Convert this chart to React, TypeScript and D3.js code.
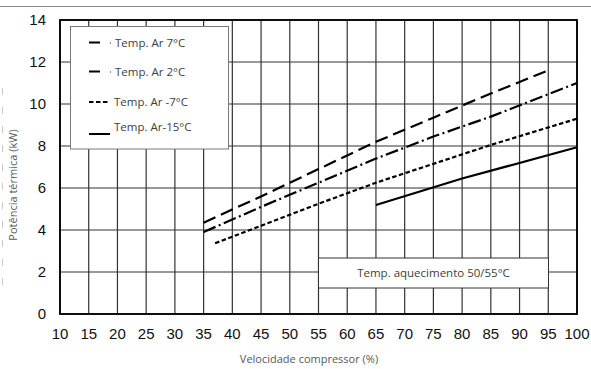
import React from "react";
import * as d3 from "d3";

const xTicks = [10, 15, 20, 25, 30, 35, 40, 45, 50, 55, 60, 65, 70, 75, 80, 85, 90, 95, 100];
const yTicks = [0, 2, 4, 6, 8, 10, 12, 14];

const speed7 = [35, 45, 55, 65, 75, 85, 95];
const power7 = [4.35, 5.6, 6.9, 8.2, 9.35, 10.5, 11.6];

const speed2 = [35, 45, 55, 65, 75, 85, 100];
const power2 = [3.9, 5.1, 6.25, 7.4, 8.45, 9.4, 11.0];

const speedM7 = [37, 45, 55, 65, 75, 85, 100];
const powerM7 = [3.37, 4.2, 5.25, 6.25, 7.15, 8.05, 9.3];

const speedM15 = [65, 80, 100];
const powerM15 = [5.19, 6.45, 7.94];

const seriesNames = ["Temp. Ar 7°C", "Temp. Ar 2°C", "Temp. Ar -7°C", "Temp. Ar-15°C"];
const annotation = "Temp. aquecimento 50/55°C";
const xTitle = "Velocidade compressor (%)";
const yTitle = "Potência térmica (kW)";

const W = 591;
const H = 369;

export default function App() {
  const x = d3.scaleLinear().domain([10, 100]).range([60, 577]);
  const y = d3.scaleLinear().domain([0, 14]).range([314, 20]);
  const line = d3
    .line<[number, number]>()
    .x((d) => x(d[0]))
    .y((d) => y(d[1]));

  const series = [
    { xs: speed7, ys: power7, dash: "13,6" },
    { xs: speed2, ys: power2, dash: "13,3.5,2,3.5" },
    { xs: speedM7, ys: powerM7, dash: "4.5,2.5" },
    { xs: speedM15, ys: powerM15, dash: "none" },
  ];

  const legendY = [46.5, 75.5, 106, 131];
  const sans = "'Open Sans', 'Noto Sans', sans-serif";
  const arial = "'Liberation Sans', Arial, sans-serif";

  return (
    <svg
      width={W}
      height={H}
      style={{ position: "absolute", left: 0, top: 0, background: "#fff" }}
    >
      {/* top separator line */}
      <line x1={0} x2={W} y1={6.5} y2={6.5} stroke="#8a8a8a" strokeWidth={1} />
      {/* faint dashed vertical on left */}
      <line x1={2.5} x2={2.5} y1={88} y2={294} stroke="#c8c8c8" strokeWidth={1} strokeDasharray="7,12" />

      {/* grid */}
      {xTicks.map((t) => (
        <line key={"gx" + t} x1={x(t)} x2={x(t)} y1={y(14)} y2={y(0)} stroke="#333" strokeWidth={1.2} />
      ))}
      {yTicks.map((t) => (
        <line key={"gy" + t} x1={x(10)} x2={x(100)} y1={y(t)} y2={y(t)} stroke="#333" strokeWidth={1.2} />
      ))}
      {/* plot border */}
      <rect x={x(10)} y={y(14)} width={x(100) - x(10)} height={y(0) - y(14)} fill="none" stroke="#000" strokeWidth={1.8} />

      {/* series */}
      {series.map((s, i) => (
        <path
          key={"s" + i}
          d={line(s.xs.map((v, j) => [v, s.ys[j]] as [number, number])) || ""}
          fill="none"
          stroke="#000"
          strokeWidth={2.2}
          strokeDasharray={s.dash}
        />
      ))}

      {/* tick labels */}
      {yTicks.map((t) => (
        <text key={"ly" + t} x={46} y={y(t)} dy="0.36em" textAnchor="end" fontFamily={arial} fontSize={15} fill="#111">
          {t}
        </text>
      ))}
      {xTicks.map((t) => (
        <text key={"lx" + t} x={x(t)} y={334} dy="0.36em" textAnchor="middle" fontFamily={arial} fontSize={15} fill="#111">
          {t}
        </text>
      ))}

      {/* axis titles */}
      <text x={309} y={359} dy="0.35em" textAnchor="middle" fontFamily={sans} fontSize={11} fill="#595959">
        {xTitle}
      </text>
      <text
        transform={`translate(13,185) rotate(-90)`}
        dy="0.35em"
        textAnchor="middle"
        fontFamily={sans}
        fontSize={11}
        fill="#595959"
      >
        {yTitle}
      </text>

      {/* legend */}
      <rect x={70.5} y={26.5} width={158} height={122.5} fill="#fff" stroke="#7a7a7a" strokeWidth={1} />
      {seriesNames.map((name, i) => {
        const ly = legendY[i];
        let sample;
        if (i < 2) {
          sample = (
            <g>
              <line x1={89} x2={100} y1={ly - 4} y2={ly - 4} stroke="#000" strokeWidth={2} />
              <circle cx={110.5} cy={ly - 3.5} r={0.7} fill="#555" />
            </g>
          );
        } else if (i === 2) {
          sample = <line x1={89} x2={110} y1={ly - 4} y2={ly - 4} stroke="#000" strokeWidth={2} strokeDasharray="4.5,2.5" />;
        } else {
          sample = <line x1={89} x2={110} y1={ly + 3} y2={ly + 3} stroke="#000" strokeWidth={2} />;
        }
        return (
          <g key={"lg" + i}>
            {sample}
            <text x={i < 2 ? 115 : 114} y={ly} fontFamily={sans} fontSize={11.5} fill="#404040">
              {name}
            </text>
          </g>
        );
      })}

      {/* annotation box */}
      <rect x={318.5} y={258} width={230} height={30} fill="#fff" stroke="#333" strokeWidth={1} />
      <text x={433.5} y={273} dy="0.35em" textAnchor="middle" fontFamily={sans} fontSize={11.5} fill="#404040">
        {annotation}
      </text>
    </svg>
  );
}
